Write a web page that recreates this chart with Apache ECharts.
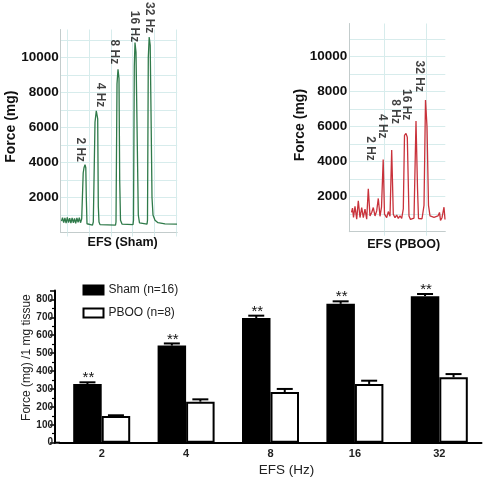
<!DOCTYPE html>
<html>
<head>
<meta charset="utf-8">
<script src="https://cdn.jsdelivr.net/npm/echarts@6/dist/echarts.min.js"></script>
<style>html,body{margin:0;padding:0;background:#fff}#c{width:484px;height:480px}</style>
</head>
<body>
<div id="c"></div>
<script>
// ---------- DATA ----------
// Sham EFS trace (time in arbitrary units, force in mg)
const shamTime  = [0.8,1.8,3.0,4.2,5.4,6.6,7.8,9.0,10.2,11.4,12.6,13.8,15.0,16.2,17.4,18.6,19.8,21.0,21.8,22.5,23.3,24.3,25.1,25.6,26.3,27.3,31.8,32.6,34.3,35.6,36.3,37.0,37.6,38.3,39.3,54.8,55.3,56.3,57.3,58.3,59.0,59.8,61.3,72.3,72.8,73.6,74.3,75.3,76.6,77.6,78.8,86.3,86.8,87.6,88.5,89.5,90.5,91.3,92.3,94.3,97.3,104.3,116.3];
const shamForce = [650,850,560,830,540,860,570,820,530,840,560,800,520,830,580,850,560,780,700,3400,3700,3880,3700,2000,500,400,420,600,6300,6950,7000,6500,1500,600,450,420,600,8500,9330,8800,3000,700,480,450,700,9500,10850,10300,5000,1000,550,480,700,10000,11170,10700,6000,2000,1000,700,560,490,480];
// PBOO EFS trace
const pbooTime  = [2.2,3.2,4.2,5.7,7.4,9.0,10.7,12.4,14.0,15.7,17.4,19.0,20.7,22.4,24.0,25.7,27.4,29.0,30.7,32.2,33.9,35.2,37.4,39.0,40.7,42.4,44.0,45.7,47.4,49.0,50.7,52.4,54.0,55.2,56.7,58.0,59.7,61.2,63.2,64.7,66.7,68.2,69.2,70.7,72.7,74.7,76.2,77.7,79.2,80.7,82.7,84.7,86.7,88.7,90.2,91.2,92.7,94.7,95.7];
const pbooForce = [1100,1350,820,1450,720,1760,810,1380,800,1290,720,2450,900,1100,1380,900,1190,1900,880,1400,4120,1000,800,1150,880,4670,1000,800,950,760,900,760,1300,5500,5620,5400,900,700,720,780,6330,2500,750,700,740,1500,7530,6000,1500,900,850,820,800,900,1100,650,800,1400,700];
// Frequency labels and the trace peaks they annotate
const freqLabels = ['2 Hz','4 Hz','8 Hz','16 Hz','32 Hz'];
const shamPeakTime  = [24.3, 36.3, 57.3, 74.3, 88.5];
const shamPeakForce = [3880, 7000, 9330, 10850, 11170];
const pbooPeakTime  = [19.0, 33.9, 42.4, 56.7, 76.2];
const pbooPeakForce = [2450, 4120, 4670, 5620, 7530];
// Bar chart
const efsCategories = ['2','4','8','16','32'];
const shamMean = [327, 542, 696, 775, 818];
const shamSem  = [10, 12, 13, 14, 12];
const pbooMean = [149, 229, 283, 328, 365];
const pbooSem  = [4, 13, 17, 18, 18];
const shamName = 'Sham (n=16)';
const pbooName = 'PBOO (n=8)';

// ---------- STYLE ----------
const FONT = '"Liberation Sans", Arial, sans-serif';
const GRIDC = '#d7ecec';
const AXC = '#c3cccc';
const GREEN = '#2f7a4a';
const RED = '#c9323b';
const BARW = 28.5;

// label pixel offsets on screen [dx, gap above peak]
const shamLabelOff = [[-5,2.5],[3,2.7],[-3.7,5],[-0.7,0.5],[0.1,3.7]];
const pbooLabelOff = [[1.7,28],[-0.5,21],[3.6,26],[0.7,13],[-6,8]];

function peakLabels(times, forces, offs) {
  // label is rotated -90deg, its offset is expressed in the rotated frame
  return times.map((t, i) => ({
    value: [t, forces[i]],
    label: { offset: [-offs[i][1], -offs[i][0]] }
  }));
}

const chart = echarts.init(document.getElementById('c'), null, {renderer: 'canvas'});

function traceY(max, name, gap, padShift) {
  return {
    type: 'value', min: 0, max: max, interval: 1000,
    axisLine: {show: true, lineStyle: {color: AXC, width: 1}},
    axisTick: {show: false},
    axisLabel: {
      margin: 2, color: '#111', fontFamily: FONT, fontWeight: 'bold', fontSize: 13.5,
      formatter: v => (v > 0 && v <= 10000 && v % 2000 === 0) ? String(v) : ''
    },
    splitLine: {show: true, showMaxLine: false, lineStyle: {color: GRIDC, width: 1}},
    name: name, nameLocation: 'middle', nameGap: gap, nameMoveOverlap: false,
    nameTextStyle: {color: '#111', fontFamily: FONT, fontWeight: 'bold', fontSize: 14, padding: [0,0,0,padShift]}
  };
}
function traceX(max, name, gap, padShift) {
  return {
    type: 'value', min: 0, max: max,
    axisLine: {show: true, lineStyle: {color: AXC, width: 1}},
    axisTick: {show: false}, axisLabel: {show: false}, splitLine: {show: false},
    name: name, nameLocation: 'middle', nameGap: gap, nameMoveOverlap: false,
    nameTextStyle: {color: '#111', fontFamily: FONT, fontWeight: 'bold', fontSize: 12.5, padding: [0,0,0,padShift]}
  };
}
function gridX(gridIndex, max) {
  return {
    gridIndex: gridIndex, type: 'value', min: 0, max: max, interval: 1,
    axisLine: {show: false},
    axisTick: {show: true, length: 4, lineStyle: {color: GRIDC}},
    axisLabel: {show: false},
    splitLine: {show: true, lineStyle: {color: GRIDC, width: 1}}
  };
}
function hiddenY(gridIndex) {
  return {gridIndex: gridIndex, type: 'value', min: 0, max: 1, show: false};
}

function errRender(side, withStars) {
  return function (params, api) {
    const cat = api.value(0), mean = api.value(1), sem = api.value(2);
    const base = api.coord([cat, mean]);
    const top = api.coord([cat, mean + sem]);
    const x = base[0] + side * BARW / 2;
    const children = [
      {type: 'line', shape: {x1: x, y1: base[1], x2: x, y2: top[1]}, style: {stroke: '#000', lineWidth: 2}},
      {type: 'line', shape: {x1: x - 8, y1: top[1], x2: x + 8, y2: top[1]}, style: {stroke: '#000', lineWidth: 2}}
    ];
    if (withStars) {
      children.push({type: 'text', style: {x: x + 1, y: top[1] - 4, text: '**', font: '15px ' + FONT, fill: '#111', align: 'center', verticalAlign: 'middle'}});
    }
    return {type: 'group', children: children};
  };
}

const labelStyle = {
  show: true, position: 'inside', rotate: -90, align: 'right', verticalAlign: 'middle',
  color: '#111', fontFamily: FONT, fontWeight: 'bold', fontSize: 12,
  formatter: p => freqLabels[p.dataIndex]
};

const option = {
  backgroundColor: '#fff',
  animation: false,
  textStyle: {fontFamily: FONT},
  grid: [
    {left: 60.7, top: 29.5, width: 116.5, height: 203},
    {left: 67.7, top: 29.5, width: 108.1, height: 203},
    {left: 349.3, top: 23.5, width: 96, height: 208.2},
    {left: 384.7, top: 23.5, width: 41.6, height: 208.2},
    {left: 59.5, top: 290.4, width: 422, height: 152.3}
  ],
  xAxis: [
    Object.assign({gridIndex: 0}, traceX(116.5, 'EFS (Sham)', 4, 7.4)),
    gridX(1, 5),
    Object.assign({gridIndex: 2}, traceX(96, 'EFS (PBOO)', 6.5, 12.8)),
    gridX(3, 1),
    {
      gridIndex: 4, type: 'category', data: efsCategories,
      axisLine: {show: true, lineStyle: {color: '#000', width: 2}},
      axisTick: {show: false},
      axisLabel: {margin: 6, color: '#222', fontFamily: FONT, fontWeight: 'bold', fontSize: 11},
      name: 'EFS (Hz)', nameLocation: 'middle', nameGap: 21, nameMoveOverlap: false,
      nameTextStyle: {color: '#222', fontFamily: FONT, fontSize: 13.5, padding: [0,0,0,32]}
    }
  ],
  yAxis: [
    Object.assign({gridIndex: 0}, traceY(11600, 'Force (mg)', 43, 8.6)),
    hiddenY(1),
    Object.assign({gridIndex: 2}, traceY(11900, 'Force (mg)', 42, 5)),
    hiddenY(3),
    {
      gridIndex: 4, type: 'value', min: 0, max: 850, interval: 100, offset: 4.5,
      axisLine: {show: true, lineStyle: {color: '#000', width: 2}},
      axisTick: {show: true, length: 5, lineStyle: {color: '#000', width: 1.5}},
      minorTick: {show: true, splitNumber: 2, length: 3, lineStyle: {color: '#000', width: 1.2}},
      axisLabel: {margin: 2, color: '#222', fontFamily: FONT, fontWeight: 'bold', fontSize: 10, showMaxLabel: false,
        formatter: v => (v % 100 === 0) ? String(v) : ''},
      splitLine: {show: false},
      name: 'Force (mg) /1 mg tissue', nameLocation: 'middle', nameGap: 22, nameMoveOverlap: false,
      nameTextStyle: {color: '#222', fontFamily: FONT, fontSize: 12, padding: [0,0,0,18]}
    }
  ],
  legend: {
    orient: 'vertical', left: 77.5, top: 279, itemWidth: 20, itemHeight: 9, itemGap: 11,
    icon: 'rect',
    data: [shamName, pbooName],
    textStyle: {color: '#222', fontFamily: FONT, fontSize: 12}
  },
  graphic: [
    {type: 'line', shape: {x1: 54, y1: 442.7, x2: 60, y2: 442.7}, style: {stroke: '#000', lineWidth: 2}}
  ],
  series: [
    {type: 'line', xAxisIndex: 0, yAxisIndex: 0, showSymbol: false, symbol: 'none',
     lineStyle: {color: GREEN, width: 1.3}, data: shamTime.map((t, i) => [t, shamForce[i]]), z: 3},
    {type: 'scatter', xAxisIndex: 0, yAxisIndex: 0, symbolSize: 0, label: labelStyle,
     data: peakLabels(shamPeakTime, shamPeakForce, shamLabelOff), z: 4},
    {type: 'line', xAxisIndex: 2, yAxisIndex: 2, showSymbol: false, symbol: 'none',
     lineStyle: {color: RED, width: 1.3}, data: pbooTime.map((t, i) => [t, pbooForce[i]]), z: 3},
    {type: 'scatter', xAxisIndex: 2, yAxisIndex: 2, symbolSize: 0, label: labelStyle,
     data: peakLabels(pbooPeakTime, pbooPeakForce, pbooLabelOff), z: 4},
    {name: shamName, type: 'bar', xAxisIndex: 4, yAxisIndex: 4, barWidth: BARW, barGap: '0%',
     itemStyle: {color: '#000', borderColor: '#000', borderWidth: 2}, data: shamMean},
    {name: pbooName, type: 'bar', xAxisIndex: 4, yAxisIndex: 4, barWidth: BARW, barGap: '0%',
     itemStyle: {color: '#fff', borderColor: '#000', borderWidth: 2}, data: pbooMean},
    {type: 'custom', xAxisIndex: 4, yAxisIndex: 4, renderItem: errRender(-1, true), z: 5,
     data: shamMean.map((m, i) => [i, m, shamSem[i]])},
    {type: 'custom', xAxisIndex: 4, yAxisIndex: 4, renderItem: errRender(1, false), z: 5,
     data: pbooMean.map((m, i) => [i, m, pbooSem[i]])}
  ]
};
chart.setOption(option);
</script>
</body>
</html>
